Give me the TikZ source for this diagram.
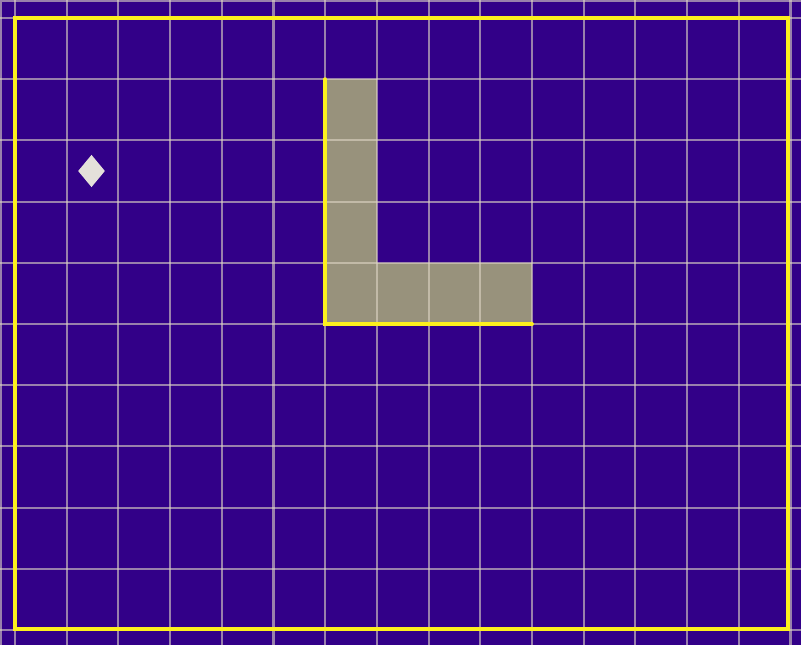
\documentclass[tikz,border=0pt]{standalone}
\usepackage{xcolor}
\usepackage{tikz}
\usetikzlibrary{shapes.geometric, positioning}
\definecolor{boardbg}{RGB}{50,0,136}
\definecolor{gridtan}{RGB}{222,214,196}
\definecolor{edgeyel}{RGB}{252,240,30}
\definecolor{piecegray}{RGB}{152,146,124}
\definecolor{markgray}{RGB}{228,224,218}
\tikzset{
  gridline/.style={draw=gridtan, opacity=0.6, line width=1.2pt},
  boardedge/.style={draw=edgeyel, line width=2.2pt},
  piece/.style={fill=piecegray},
  pieceedge/.style={draw=edgeyel, line width=2.2pt, line cap=round},
  marker/.style={diamond, fill=markgray, inner sep=0pt,
    minimum width=0.54cm, minimum height=0.65cm}
}
\begin{document}
\begin{tikzpicture}[x=1.034cm, y=-1.224cm]
  % background
  \fill[boardbg] (-0.290,-0.294) rectangle (15.203,10.245);
  \useasboundingbox (-0.290,-0.294) rectangle (15.203,10.245);

  % L piece
  \fill[piece] (6,1) -- (7,1) -- (7,4) -- (10,4) -- (10,5) -- (6,5) -- cycle;

  % grid, plus the light strips on the top and left edges
  \foreach \i in {0,...,15}
    \draw[gridline] (\i,-0.294) -- (\i,10.245);
  \foreach \j in {0,...,10}
    \draw[gridline] (-0.290,\j) -- (15.203,\j);
  \draw[gridline] (-0.270,10.245) -- (-0.270,-0.276) -- (15.203,-0.276);

  % outer frame and piece edges
  \draw[boardedge] (0,0) rectangle (14.95,9.98);
  \draw[pieceedge] (6,1) -- (6,5) -- (10,5);

  \node[marker] (dot) at (1.48,2.5) {};
\end{tikzpicture}
\end{document}
